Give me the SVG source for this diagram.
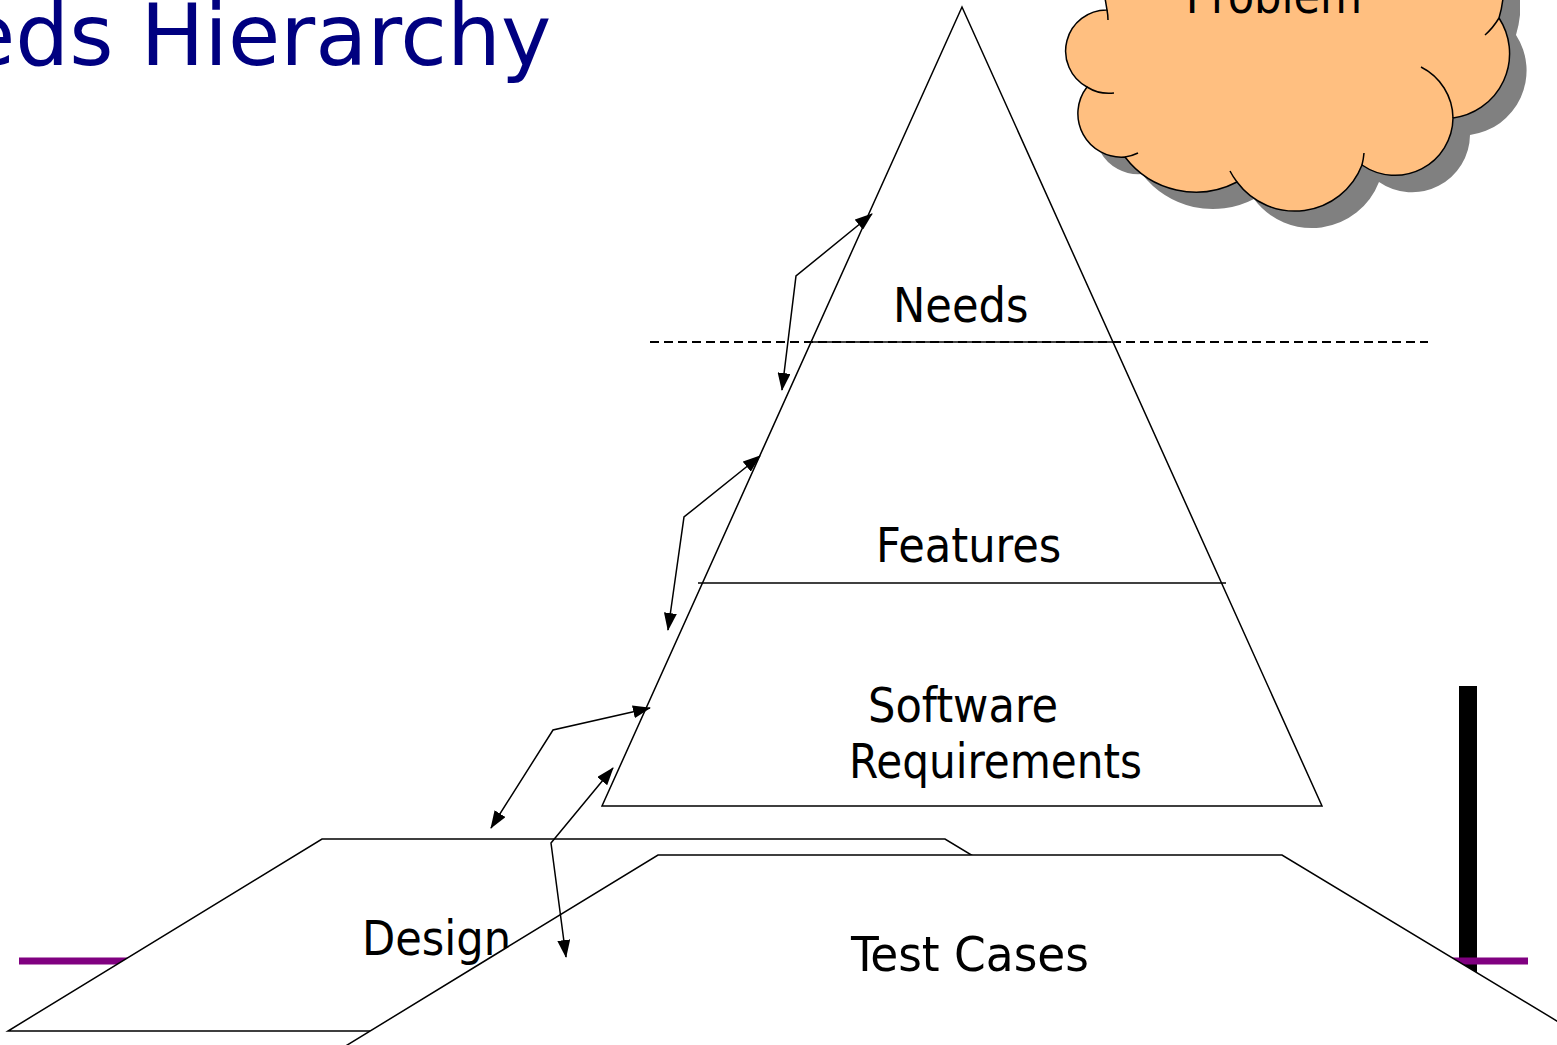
<svg xmlns="http://www.w3.org/2000/svg" width="1557" height="1045" viewBox="0 0 1557 1045">
<style>
.ln{fill:none;stroke:#000;stroke-width:1.5}
.shape{fill:#fff;stroke:#000;stroke-width:1.5;stroke-linejoin:miter}
.lbl{font-family:'DejaVu Sans Condensed','DejaVu Sans',sans-serif;font-stretch:semi-condensed;font-size:48px;fill:#000}
.title{font-family:'DejaVu Sans',sans-serif;font-size:85px;fill:#000080}
.conn{fill:none;stroke:#000;stroke-width:1.5;marker-start:url(#ah);marker-end:url(#ah)}
</style>
<defs>
<marker id="ah" viewBox="0 0 18 13" refX="17" refY="6.5" markerWidth="18" markerHeight="13" markerUnits="userSpaceOnUse" orient="auto-start-reverse">
<path d="M0,0 L18,6.5 L0,13 z" fill="#000"/>
</marker>
<path id="cloudOutline" d="M1105,-60 L1105,-2 Q1106,4 1107,10 A41 41 0 0 0 1087,87 A43.5 43.5 0 0 0 1125,157 A89 89 0 0 0 1237,182 A72 72 0 0 0 1362,165 A58 58 0 0 0 1453,118 A65 65 0 0 0 1499,18 Q1502,8 1503,-2 L1503,-60 Z"/>
</defs>
<rect width="1557" height="1045" fill="#fff"/>

<g id="title">
<text x="-153" y="65" class="title">Needs Hierarchy</text>
</g>

<g id="template">
<rect x="1459" y="686" width="18" height="300" fill="#000"/>
<line x1="19" y1="961" x2="1528" y2="961" stroke="#800080" stroke-width="7"/>
</g>

<g id="cloud">
<use href="#cloudOutline" transform="translate(17,17)" fill="#808080"/>
<use href="#cloudOutline" fill="#FFBF80" stroke="#000" stroke-width="1.5"/>
<path class="ln" d="M1107,10 Q1108,15 1108,20 M1087,87 A41 41 0 0 0 1114,93 M1125,157 A43.5 43.5 0 0 0 1138,153 M1230,171 A72 72 0 0 0 1237,182 M1362,165 A72 72 0 0 0 1364,153 M1453,118 A58 58 0 0 0 1421,67 M1499,18 Q1493,28 1485,35"/>
<text x="1274" y="13" text-anchor="middle" class="lbl">Problem</text>
</g>

<g id="pyramid">
<polygon class="shape" points="962,7 602,806 1322,806"/>
<line x1="650" y1="342" x2="1428" y2="342" stroke="#000" stroke-width="2.2" stroke-dasharray="9 5"/>
<line class="ln" x1="811" y1="342" x2="1113" y2="342"/>
<line class="ln" x1="698" y1="583" x2="1226" y2="583"/>
</g>
<g id="needs"><text x="893" y="322" class="lbl">Needs</text></g>
<g id="features"><text x="876" y="562" class="lbl">Features</text></g>
<g id="software-requirements"><text class="lbl"><tspan x="868" y="722">Software</tspan><tspan x="849" y="778" textLength="293" lengthAdjust="spacingAndGlyphs">Requirements</tspan></text></g>

<g id="design">
<polygon class="shape" points="322,839 945,839 1262,1031 8,1031"/>
<text x="362" y="955" class="lbl">Design</text>
</g>

<g id="test-cases">
<polygon class="shape" points="658,855 1282,855 1600,1047 344,1047"/>
<text x="851" y="971" class="lbl" textLength="238" lengthAdjust="spacingAndGlyphs">Test Cases</text>
</g>

<g id="connectors">
<polyline class="conn" points="782,390 796,276 872,214"/>
<polyline class="conn" points="668,630 684,517 760,456"/>
<polyline class="conn" points="491,828 553,730 650,708"/>
<polyline class="conn" points="613,768 551,843 566,957"/>
</g>
</svg>
